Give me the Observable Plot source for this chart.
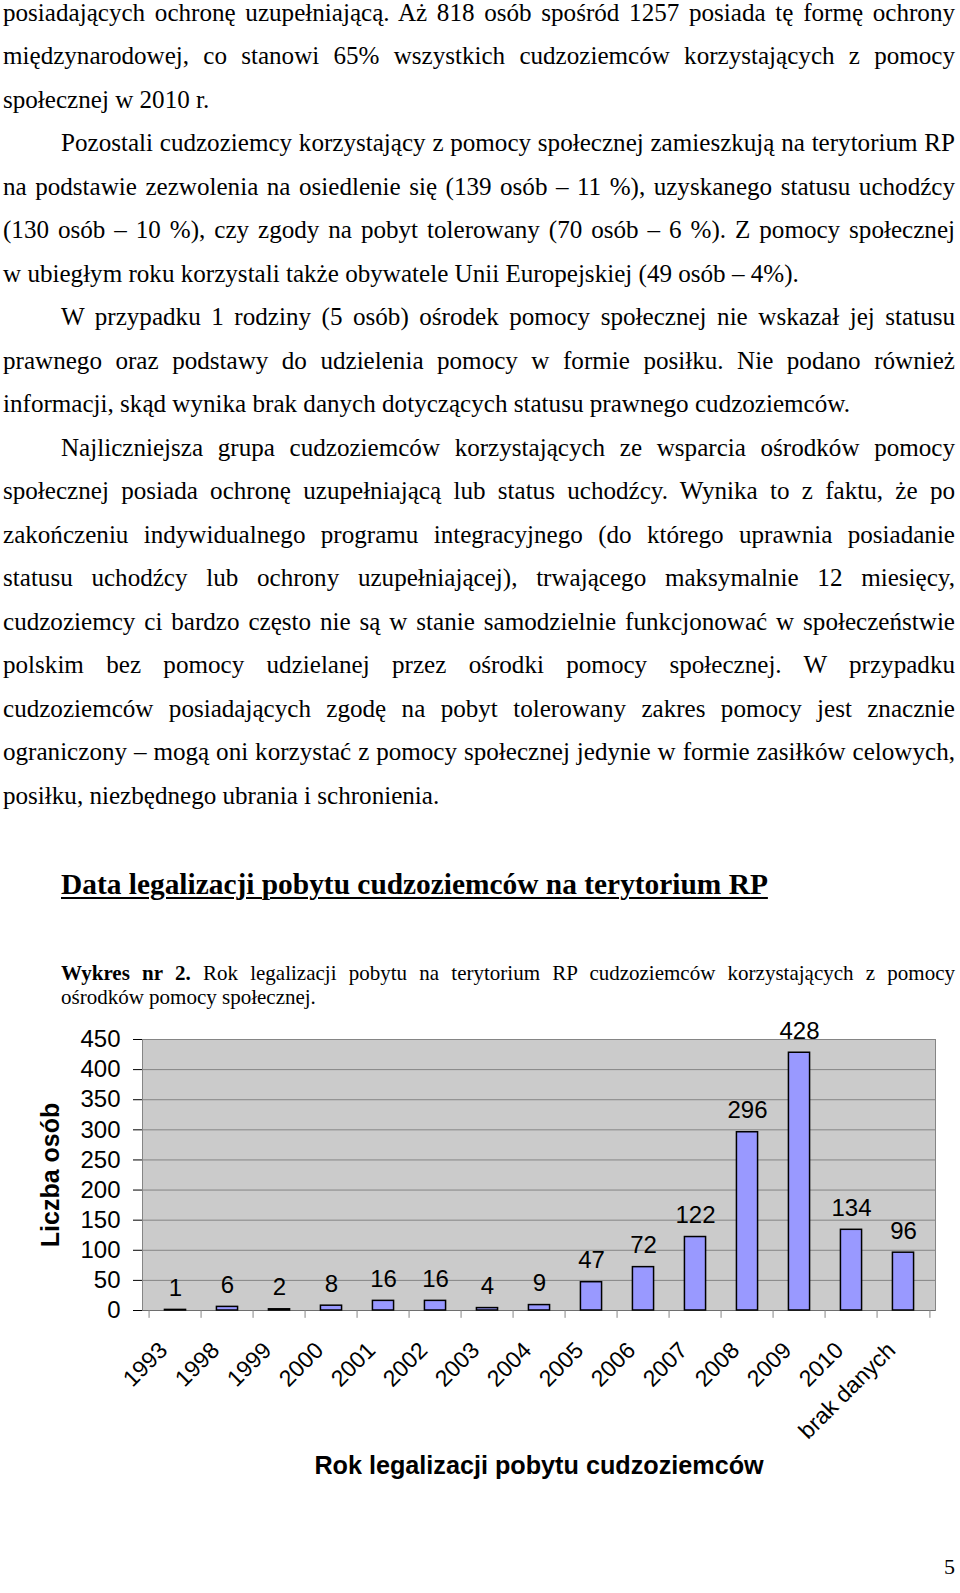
<!DOCTYPE html>
<html><head><meta charset="utf-8">
<script src="https://cdn.jsdelivr.net/npm/d3@7"></script>
<script src="https://cdn.jsdelivr.net/npm/@observablehq/plot@0.6"></script>
<style>
html,body{margin:0;padding:0;background:#fff;}
body{width:960px;height:1593px;overflow:hidden;position:relative;}
.txt{position:absolute;left:3px;width:952px;top:-9.5px;font-family:"Liberation Serif","Times New Roman",serif;font-size:25.1px;line-height:43.5px;color:#000;}
.ln{text-align:justify;text-align-last:justify;height:43.5px;white-space:nowrap;}
.ln.last{text-align-last:left;}
.ind{padding-left:58px;}
.head{position:absolute;left:61px;top:870px;font-family:"Liberation Serif","Times New Roman",serif;font-weight:bold;font-size:29.4px;line-height:29.4px;text-decoration:underline;text-decoration-thickness:2px;text-underline-offset:3px;white-space:nowrap;}
.cap{position:absolute;left:61px;top:961px;width:894px;font-family:"Liberation Serif","Times New Roman",serif;font-size:21px;line-height:24px;}
.cap .ln{height:24px;}
.pg{position:absolute;right:5px;top:1556px;font-family:"Liberation Serif","Times New Roman",serif;font-size:22px;line-height:22px;}
#chart{position:absolute;left:0;top:1015px;}
</style>
</head><body>
<div class="txt">
<div class="ln">posiadających ochronę uzupełniającą. Aż 818 osób spośród 1257 posiada tę formę ochrony</div>
<div class="ln">międzynarodowej, co stanowi 65% wszystkich cudzoziemców korzystających z pomocy</div>
<div class="ln last">społecznej w 2010 r.</div>
<div class="ln ind">Pozostali cudzoziemcy korzystający z pomocy społecznej zamieszkują na terytorium RP</div>
<div class="ln">na podstawie zezwolenia na osiedlenie się (139 osób – 11 %), uzyskanego statusu uchodźcy</div>
<div class="ln">(130 osób – 10 %), czy zgody na pobyt tolerowany (70 osób – 6 %). Z pomocy społecznej</div>
<div class="ln last">w ubiegłym roku korzystali także obywatele Unii Europejskiej (49 osób – 4%).</div>
<div class="ln ind">W przypadku 1 rodziny (5 osób) ośrodek pomocy społecznej nie wskazał jej statusu</div>
<div class="ln">prawnego oraz podstawy do udzielenia pomocy w formie posiłku. Nie podano również</div>
<div class="ln last">informacji, skąd wynika brak danych dotyczących statusu prawnego cudzoziemców.</div>
<div class="ln ind">Najliczniejsza grupa cudzoziemców korzystających ze wsparcia ośrodków pomocy</div>
<div class="ln">społecznej posiada ochronę uzupełniającą lub status uchodźcy. Wynika to z faktu, że po</div>
<div class="ln">zakończeniu indywidualnego programu integracyjnego (do którego uprawnia posiadanie</div>
<div class="ln">statusu uchodźcy lub ochrony uzupełniającej), trwającego maksymalnie 12 miesięcy,</div>
<div class="ln">cudzoziemcy ci bardzo często nie są w stanie samodzielnie funkcjonować w społeczeństwie</div>
<div class="ln">polskim bez pomocy udzielanej przez ośrodki pomocy społecznej. W przypadku</div>
<div class="ln">cudzoziemców posiadających zgodę na pobyt tolerowany zakres pomocy jest znacznie</div>
<div class="ln">ograniczony – mogą oni korzystać z pomocy społecznej jedynie w formie zasiłków celowych,</div>
<div class="ln last">posiłku, niezbędnego ubrania i schronienia.</div>
</div>
<div class="head">Data legalizacji pobytu cudzoziemców na terytorium RP</div>
<div class="cap">
<div class="ln"><b>Wykres nr 2.</b> Rok legalizacji pobytu na terytorium RP cudzoziemców korzystających z pomocy</div>
<div class="ln last">ośrodków pomocy społecznej.</div>
</div>
<div class="pg">5</div>
<div id="chart"></div>
<script>
const categories = ["1993","1998","1999","2000","2001","2002","2003","2004","2005","2006","2007","2008","2009","2010","brak danych"];
const values = [1,6,2,8,16,16,4,9,47,72,122,296,428,134,96];
const yTicks = [0,50,100,150,200,250,300,350,400,450];
const yTitle = "Liczba osób";
const xTitle = "Rok legalizacji pobytu cudzoziemców";

const data = categories.map((c, i) => ({category: c, value: values[i]}));

const W = 960, H = 475, ML = 142, MR = 25, MT = 24, MB = 180;
const step = (W - ML - MR) / categories.length;
const barW = 22;
const inset = (step - barW) / 2;
const grey = "#858585";

const chart = Plot.plot({
  width: W, height: H,
  marginLeft: ML, marginRight: MR, marginTop: MT, marginBottom: MB,
  style: {fontFamily: "'Liberation Sans', Arial, Helvetica, sans-serif", fontSize: "24px", background: "#fff", overflow: "visible", color: "#000"},
  x: {domain: categories, padding: 0, axis: null},
  y: {domain: [0, 450], ticks: yTicks, tickSize: 9, tickPadding: 13, label: null, tickFormat: d => String(d)},
  marks: [
    Plot.frame({fill: "#cbcbcb"}),
    Plot.ruleY(yTicks, {y: d => d, stroke: grey, strokeWidth: 1}),
    Plot.frame({stroke: grey, strokeWidth: 1}),
    Plot.ruleY([0], {stroke: "#6e6e6e", strokeWidth: 1.2}),
    Plot.ruleX(categories, {x: d => d, y1: 0, y2: -13, dx: -step / 2, stroke: grey}),
    Plot.ruleX(categories.slice(-1), {x: d => d, y1: 0, y2: -13, dx: step / 2, stroke: grey}),
    Plot.barY(data, {x: "category", y: "value", fill: "#9999ff", stroke: "#000", strokeWidth: 1.5, insetLeft: inset, insetRight: inset}),
    Plot.text(data, {x: "category", y: "value", text: d => String(d.value), lineAnchor: "bottom", dy: -14, fontSize: 24, fill: "#000"}),
    Plot.text(categories, {x: d => d, text: d => d, frameAnchor: "bottom", rotate: -45, textAnchor: "end", lineAnchor: "middle", dx: -12, dy: 36, fontSize: 23, fill: "#000"}),
    Plot.text([yTitle], {text: d => d, frameAnchor: "left", rotate: -90, textAnchor: "middle", lineAnchor: "middle", dx: -92, fontSize: 25, fontWeight: "bold", fill: "#000"}),
    Plot.text([xTitle], {text: d => d, frameAnchor: "bottom", textAnchor: "middle", lineAnchor: "bottom", dy: 163, fontSize: 25.2, fontWeight: "bold", fill: "#000"})
  ]
});
document.getElementById("chart").appendChild(chart);
</script>
</body></html>
